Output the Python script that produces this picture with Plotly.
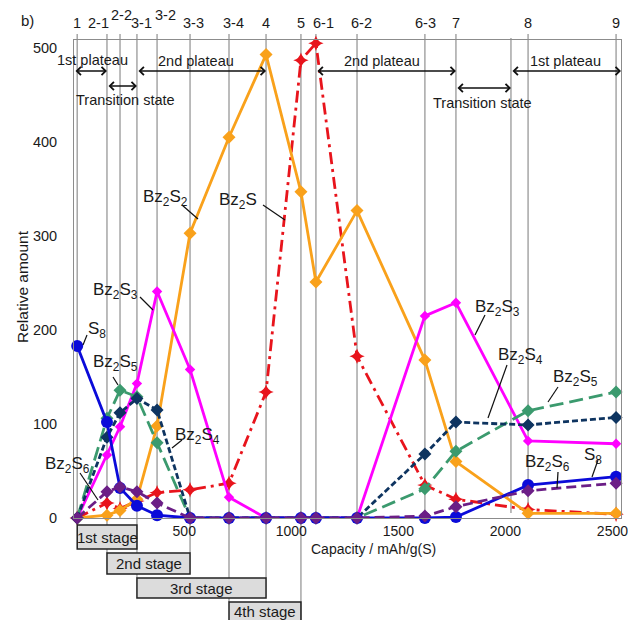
import plotly.graph_objects as go

# ---------------- data ----------------
point_labels = ["1", "2-1", "2-2", "3-1", "3-2", "3-3", "3-4", "4", "5",
                "6-1", "6-2", "6-3", "7", "8", "9"]
capacity = [0, 139, 200, 279, 373, 527, 709, 882, 1045, 1115, 1307, 1624, 1769, 2106, 2517]
transition_end = 2026

s8 = [183, 102, 32, 13, 3, 0, 0, 0, 0, 0, 0, 0, 1, 35, 44]
bz2s6 = [0, 28, 33, 28, 16, 0, 0, 0, 0, 0, 0, 2, 12, 29, 37]
bz2s5 = [0, 106, 136, 129, 80, 0, 0, 0, 0, 0, 0, 31, 71, 114, 134]
bz2s4 = [0, 86, 112, 127, 115, 0, 0, 0, 0, 0, 0, 68, 102, 99, 107]
bz2s3 = [0, 67, 97, 143, 241, 158, 22, 0, 0, 0, 0, 215, 229, 82, 79]
bz2s2 = [0, 3, 8, 20, 98, 303, 405, 493, 347, 251, 327, 168, 60, 5, 5]
bz2s = [0, 16, 10, 18, 27, 30, 37, 134, 487, 505, 172, 35, 20, 9, 4]

x_ticks = [500, 1000, 1500, 2000, 2500]
y_ticks = [0, 100, 200, 300, 400, 500]
x_range = [-15, 2540]
y_range = [0, 508.5]

# ---------------- layout helpers (pixel -> paper) ----------------
W, H = 628, 620
L, R, T, B = 74, 621, 40, 518
def xp(px):
    return (px - L) / (R - L)
def yp(py):
    return (B - py) / (B - T)
def ydat(py):
    return y_range[0] + (B - py) / (B - T) * (y_range[1] - y_range[0])

FONT = "Liberation Sans, Arial, sans-serif"
TXT = "#1a1a1a"
GRID = "#a6a6a6"

red = "#e8141c"
orange = "#f9a11b"
magenta = "#ff00ff"
green = "#3b9a6e"
navy = "#0e3460"
blue = "#0b0bd9"
purple = "#6b1e86"

fig = go.Figure()

series = [
    ("Bz2S", bz2s, red, "12px,5px,3px,5px", "star-diamond", 11),
    ("Bz2S2", bz2s2, orange, "solid", "diamond", 10),
    ("Bz2S3", bz2s3, magenta, "solid", "diamond", 8),
    ("Bz2S5", bz2s5, green, "14px,6px", "diamond", 10),
    ("Bz2S4", bz2s4, navy, "6px,3px", "diamond", 10),
    ("S8", s8, blue, "solid", "circle", 12),
    ("Bz2S6", bz2s6, purple, "10px,5px", "diamond", 10),
]
for name, vals, col, dash, sym, size in series:
    fig.add_trace(go.Scatter(
        x=capacity, y=vals, name=name, mode="lines+markers",
        line=dict(color=col, width=2.8, dash=dash),
        marker=dict(color=col, symbol=sym, size=size),
        showlegend=False, cliponaxis=False))

# top point markers
fig.add_trace(go.Scatter(
    x=capacity, y=[ydat(34)] * len(capacity), mode="markers",
    marker=dict(color="#a0a0a0", size=10), cliponaxis=False,
    showlegend=False, hoverinfo="skip"))

shapes = []
annotations = []

# vertical grid lines at each point
bottom_px = {0: 525, 1: 553, 3: 578, 5: 553, 6: 602, 7: 578, 8: 620}
for i, c in enumerate(capacity):
    shapes.append(dict(type="line", xref="x", yref="paper", x0=c, x1=c,
                       y0=yp(bottom_px.get(i, B)), y1=yp(34),
                       line=dict(color=GRID, width=1.5), layer="below"))
shapes.append(dict(type="line", xref="x", yref="paper", x0=transition_end, x1=transition_end,
                   y0=yp(513), y1=yp(38), line=dict(color=GRID, width=1.5), layer="below"))

# top point labels (small horizontal nudges as in the reference)
label_shift = {"2-1": -8, "2-2": 1, "3-1": 5, "3-2": 8, "3-3": 3, "3-4": 4,
               "6-1": 8, "6-2": 4, "6-3": 1}
for i, (c, lab) in enumerate(zip(capacity, point_labels)):
    py = 15 if lab in ("2-2", "3-2") else 23
    annotations.append(dict(x=c, xref="x", y=yp(py), yref="paper", text=lab,
                            xanchor="center", yanchor="middle",
                            xshift=label_shift.get(lab, 0),
                            showarrow=False, font=dict(family=FONT, size=14.5, color=TXT)))

# plateau arrows
def darrow(x0, x1, py):
    annotations.append(dict(x=x1, y=ydat(py), xref="x", yref="y",
                            ax=x0, ay=ydat(py), axref="x", ayref="y",
                            text="", showarrow=True, arrowside="end+start",
                            arrowhead=4, startarrowhead=4, arrowsize=1.15,
                            startarrowsize=1.15, arrowwidth=1.4, arrowcolor="#111111",
                            standoff=0, startstandoff=0))
darrow(x_range[0], capacity[1], 71)
darrow(capacity[1], capacity[3], 86)
darrow(capacity[3], capacity[7], 71)
darrow(capacity[9], capacity[12], 71)
darrow(capacity[12], transition_end, 88)
darrow(transition_end, x_range[1], 71)

def ptext(text, px, py, size=14.5, **kw):
    d = dict(x=xp(px), y=yp(py), xref="paper", yref="paper", text=text,
             xanchor="center", yanchor="middle",
             showarrow=False, font=dict(family=FONT, size=size, color=TXT))
    d.update(kw)
    annotations.append(d)

ptext("1st plateau", 92, 60)
ptext("Transition state", 125, 100)
ptext("2nd plateau", 196, 61)
ptext("2nd plateau", 382, 61)
ptext("Transition state", 482, 103)
ptext("1st plateau", 565, 61)
ptext("b)", 27, 20, size=15)
ptext("Relative amount", 22, 287, size=15.5, textangle=-90)
ptext("Capacity / mAh/g(S)", 373, 549, size=14)

# stage boxes
stages = [("1st stage", 0, 3, 525, 549, 537), ("2nd stage", 1, 5, 553, 574, 563.5),
          ("3rd stage", 3, 7, 578, 598, 588), ("4th stage", 6, 8, 602, 624, 611)]
for lab, i0, i1, pt, pb, pc in stages:
    shapes.append(dict(type="rect", xref="x", yref="paper", x0=capacity[i0], x1=capacity[i1],
                       y0=yp(pb), y1=yp(pt), fillcolor="#dcdcdc",
                       line=dict(color="#222222", width=1.5)))
    annotations.append(dict(x=(capacity[i0] + capacity[i1]) / 2, xref="x",
                            y=yp(pc), yref="paper", text=lab, showarrow=False,
                            xanchor="center", yanchor="middle",
                            font=dict(family=FONT, size=15, color=TXT)))

# series labels with leader lines
labels = [
    ("S<sub>8</sub>", 97, 327, (87, 335, 83, 345)),
    ("Bz<sub>2</sub>S<sub>5</sub>", 115, 360, (113, 377, 118, 385)),
    ("Bz<sub>2</sub>S<sub>4</sub>", 197, 433, (182, 440, 172, 448)),
    ("Bz<sub>2</sub>S<sub>6</sub>", 67, 462, (80, 473, 98, 500)),
    ("Bz<sub>2</sub>S<sub>3</sub>", 115, 288, (140, 297, 153, 310)),
    ("Bz<sub>2</sub>S<sub>2</sub>", 165, 195, (182, 205, 198, 219)),
    ("Bz<sub>2</sub>S", 238, 198, (263, 205, 285, 220)),
    ("Bz<sub>2</sub>S<sub>3</sub>", 497, 305, (485, 315, 475, 335)),
    ("Bz<sub>2</sub>S<sub>4</sub>", 520, 353, (507, 365, 488, 418)),
    ("Bz<sub>2</sub>S<sub>5</sub>", 575, 375, (558, 387, 548, 402)),
    ("Bz<sub>2</sub>S<sub>6</sub>", 547, 460, (558, 472, 557, 488)),
    ("S<sub>8</sub>", 593, 453, (598, 460, 592, 477)),
]
for text, px, py, (a, b, c, d) in labels:
    ptext(text, px, py + 3, size=17)
    shapes.append(dict(type="line", xref="paper", yref="paper",
                       x0=xp(a), y0=yp(b), x1=xp(c), y1=yp(d),
                       line=dict(color="#111111", width=1.2)))

fig.update_layout(
    width=W, height=H,
    margin=dict(l=L, r=W - R, t=T, b=H - B, autoexpand=False),
    paper_bgcolor="white", plot_bgcolor="rgba(0,0,0,0)",
    font=dict(family=FONT, size=14, color=TXT),
    shapes=shapes, annotations=annotations,
    xaxis=dict(range=x_range, tickvals=x_ticks, showgrid=False, zeroline=False,
               showline=True, mirror=True, linecolor="#8c8c8c", linewidth=1,
               ticks="", ticklabelstandoff=0, ticklabeloverflow="allow",
               automargin=False,
               tickfont=dict(family=FONT, size=14, color=TXT)),
    yaxis=dict(range=y_range, tickvals=y_ticks, showgrid=False, zeroline=False,
               showline=True, mirror=True, linecolor="#8c8c8c", linewidth=1,
               ticks="", ticklabelstandoff=13, ticklabeloverflow="allow",
               automargin=False,
               tickfont=dict(family=FONT, size=14.5, color=TXT)),
)

fig.write_html("out.html")
